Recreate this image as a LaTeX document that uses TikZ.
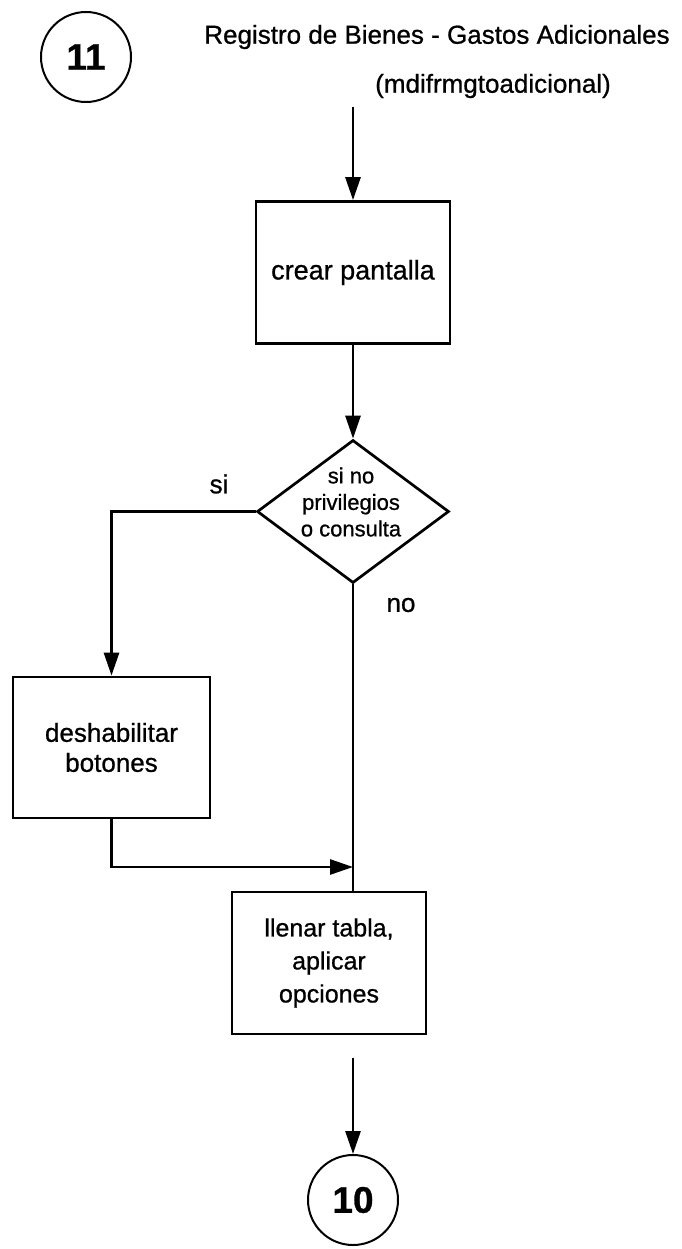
\documentclass[tikz,border=0pt]{standalone}
\usepackage{fontspec}
\setmainfont{Liberation Sans}[RawFeature={embolden=0.8}]
\usetikzlibrary{arrows.meta,shapes.geometric}

\tikzset{
  flow/.style={line width=2.7pt},
  arr/.style={flow,-{Triangle[length=23pt,width=15pt]}},
  procbox/.style={draw,flow,rectangle,inner sep=0pt,align=center,
    minimum width=194pt,minimum height=142pt},
  connector/.style={draw,line width=2pt,circle,inner sep=0pt,minimum size=90pt,
    font=\fontsize{37}{40}\selectfont\bfseries},
  decision/.style={draw,flow,diamond,inner sep=0pt,
    minimum width=192pt,minimum height=143pt},
  plain/.style={inner sep=0pt,align=center},
}

\begin{document}
\begin{tikzpicture}[x=1pt,y=-1pt]
  \useasboundingbox (0,0) rectangle (681,1249);

  % header
  \node[connector] (c11) at (86,57) {11};
  \node[plain,font=\fontsize{26}{30}\selectfont] (title) at (437,37)
    {Registro de Bienes - Gastos Adicionales};
  \node[plain,font=\fontsize{26}{30}\selectfont] (sub) at (493,86)
    {(mdifrmgtoadicional)};
  \coordinate (start) at (353,107);

  % process steps
  \node[procbox,font=\fontsize{27}{31}\selectfont] (crear) at (353,272.5)
    {crear pantalla};
  \node[decision] (dec) at (353,511.5) {};
  \node[plain,font=\fontsize{22}{26.5}\selectfont] (dectext) at (351,502)
    {si no\\privilegios\\o consulta};
  \node[plain,font=\fontsize{26}{30}\selectfont] (si) at (219,484) {si};
  \node[plain,font=\fontsize{26}{30}\selectfont] (no) at (401,605) {no};

  \node[procbox,minimum width=197pt,minimum height=141pt,
    font=\fontsize{26}{30}\selectfont] (desh) at (111.5,747.5)
    {deshabilitar\\botones};
  \node[procbox,font=\fontsize{25}{33}\selectfont] (llenar) at (329,963)
    {llenar tabla,\\aplicar\\opciones};
  \coordinate (merge) at (353,867);
  \coordinate (tail) at (353,1058);
  \node[connector] (c10) at (353,1200) {10};

  % connectors
  \draw[arr] (start) -- (crear.north -| start);
  \draw[arr] (crear.south -| start) -- (dec.north);
  \draw[arr] (dec.west) -| (desh.north);
  \draw[flow] (dec.south) -- (dec.south |- llenar.north);
  \draw[arr] (desh.south) |- (merge);
  \draw[arr] (tail) -- (c10.north);
\end{tikzpicture}
\end{document}
